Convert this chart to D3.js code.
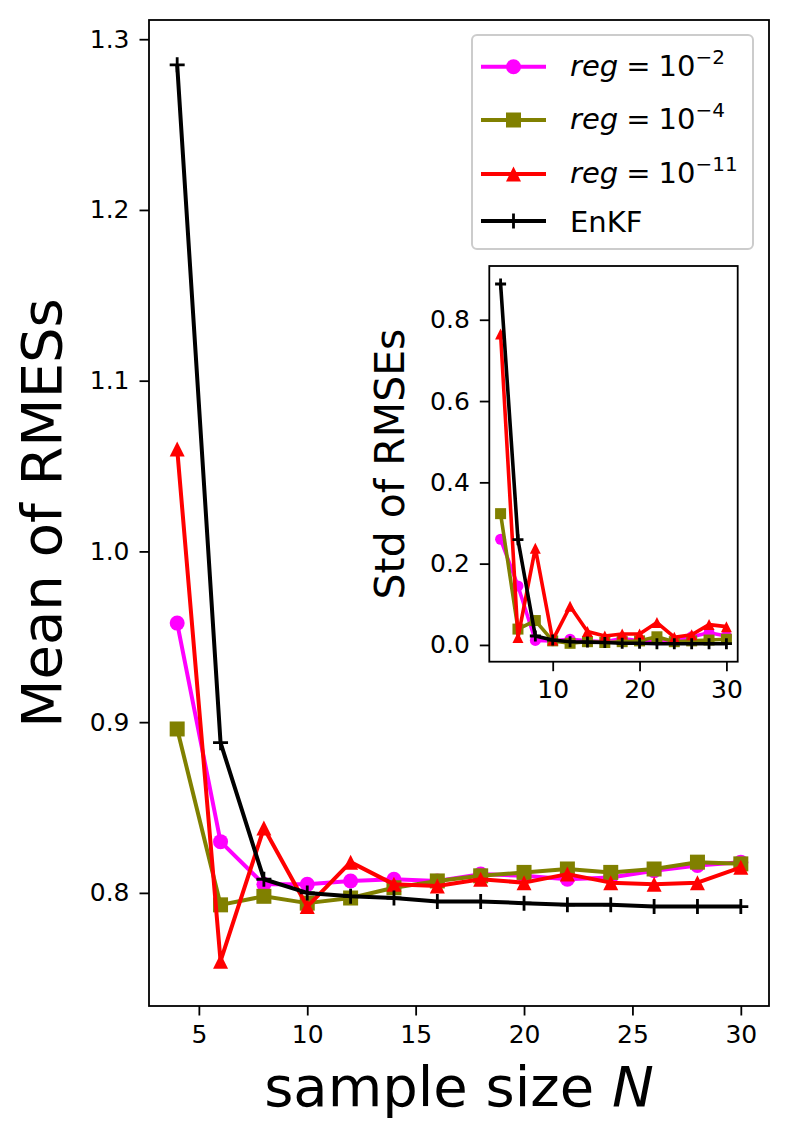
<!DOCTYPE html>
<html>
<head>
<meta charset="utf-8">
<script src="https://cdn.jsdelivr.net/npm/d3@7"></script>
<style>
  body { margin: 0; background: #fff; }
  svg { display: block; font-family: "DejaVu Sans", sans-serif; }
</style>
</head>
<body>
<svg id="chart" width="788" height="1144"></svg>
<script>
// datos
var sampleSizes = [4, 6, 8, 10, 12, 14, 16, 18, 20, 22, 24, 26, 28, 30];

// media de los RMSE
var meanReg2  = [0.958, 0.830, 0.805, 0.805, 0.807, 0.808, 0.807, 0.811, 0.810, 0.808, 0.809, 0.813, 0.816, 0.818];
var meanReg4  = [0.896, 0.793, 0.798, 0.794, 0.797, 0.803, 0.807, 0.810, 0.812, 0.814, 0.812, 0.814, 0.818, 0.817];
var meanReg11 = [1.060, 0.760, 0.838, 0.792, 0.818, 0.805, 0.804, 0.808, 0.806, 0.811, 0.806, 0.805, 0.806, 0.815];
var meanEnKF  = [1.285, 0.888, 0.808, 0.800, 0.798, 0.797, 0.795, 0.795, 0.794, 0.793, 0.793, 0.792, 0.792, 0.792];

// desviación típica de los RMSE (gráfico interior)
var stdReg2  = [0.260, 0.145, 0.011, 0.010, 0.014, 0.010, 0.008, 0.016, 0.010, 0.012, 0.010, 0.020, 0.030, 0.022];
var stdReg4  = [0.323, 0.039, 0.060, 0.010, 0.004, 0.008, 0.006, 0.008, 0.010, 0.020, 0.008, 0.010, 0.012, 0.014];
var stdReg11 = [0.765, 0.018, 0.238, 0.012, 0.095, 0.033, 0.022, 0.027, 0.027, 0.055, 0.019, 0.025, 0.050, 0.045];
var stdEnKF  = [0.888, 0.259, 0.022, 0.012, 0.008, 0.007, 0.006, 0.004, 0.004, 0.003, 0.003, 0.003, 0.003, 0.003];

var seriesExp   = ["\u22122", "\u22124", "\u221211", null];
var seriesNames = ["reg2", "reg4", "reg11", "EnKF"];
var seriesColors = ["#ff00ff", "#808000", "#ff0000", "#000000"];
var seriesMarkers = ["circle", "square", "triangle", "plus"];

var mainXTicks = [5, 10, 15, 20, 25, 30];
var mainYTicks = [0.8, 0.9, 1.0, 1.1, 1.2, 1.3];
var insetXTicks = [10, 20, 30];
var insetYTicks = [0.0, 0.2, 0.4, 0.6, 0.8];

var meanSeries = [meanReg2, meanReg4, meanReg11, meanEnKF];
var stdSeries = [stdReg2, stdReg4, stdReg11, stdEnKF];

var svg = d3.select("#chart");

// dominio con 5% de margen, como matplotlib
function paddedExtent(arrays) {
    var all = d3.merge(arrays);
    var lo = d3.min(all), hi = d3.max(all);
    var m = (hi - lo) * 0.05;
    return [lo - m, hi + m];
}
var xExt = d3.extent(sampleSizes);
var xPad = (xExt[1] - xExt[0]) * 0.05;

// dibuja un marcador en (0,0)
function drawMarker(g, type, size, color) {
    var h = size / 2;
    if (type === "circle") {
        g.append("circle").attr("r", h).attr("fill", color);
    } else if (type === "square") {
        g.append("rect").attr("x", -h).attr("y", -h).attr("width", size).attr("height", size).attr("fill", color);
    } else if (type === "triangle") {
        g.append("path").attr("d", "M0," + (-h) + "L" + h + "," + h + "L" + (-h) + "," + h + "Z").attr("fill", color);
    } else {
        g.append("path").attr("d", "M" + (-h) + ",0H" + h + "M0," + (-h) + "V" + h)
            .attr("stroke", color).attr("stroke-width", 2.8).attr("fill", "none");
    }
}

function drawPanel(box, seriesList, xTicks, yTicks, yFormat, opt) {
    var x = d3.scaleLinear().domain([xExt[0] - xPad, xExt[1] + xPad]).range([box.left, box.right]);
    var y = d3.scaleLinear().domain(paddedExtent(seriesList)).range([box.bottom, box.top]);

    svg.append("rect")
        .attr("x", box.left).attr("y", box.top)
        .attr("width", box.right - box.left).attr("height", box.bottom - box.top)
        .attr("fill", "#fff");

    var clipId = "clip" + opt.id;
    svg.append("clipPath").attr("id", clipId).append("rect")
        .attr("x", box.left).attr("y", box.top)
        .attr("width", box.right - box.left).attr("height", box.bottom - box.top);

    var plot = svg.append("g").attr("clip-path", "url(#" + clipId + ")");
    var line = d3.line().x((d, i) => x(sampleSizes[i])).y(d => y(d));

    seriesList.forEach(function (vals, k) {
        plot.append("path")
            .datum(vals)
            .attr("d", line)
            .attr("fill", "none")
            .attr("stroke", seriesColors[k])
            .attr("stroke-width", opt.lw)
            .attr("stroke-linejoin", "round");
        plot.selectAll(".m" + k)
            .data(vals)
            .enter()
            .append("g")
            .attr("transform", (d, i) => "translate(" + x(sampleSizes[i]) + "," + y(d) + ")")
            .each(function () { drawMarker(d3.select(this), seriesMarkers[k], opt.ms, seriesColors[k]); });
    });

    // ejes
    var xAxis = d3.axisBottom(x).tickValues(xTicks).tickSize(9.5).tickPadding(8).tickFormat(d3.format("d"));
    var yAxis = d3.axisLeft(y).tickValues(yTicks).tickSize(9.5).tickPadding(10).tickFormat(d3.format(yFormat));

    var gx = svg.append("g").attr("transform", "translate(0," + box.bottom + ")").call(xAxis);
    var gy = svg.append("g").attr("transform", "translate(" + box.left + ",0)").call(yAxis);
    [gx, gy].forEach(function (g) {
        g.select(".domain").remove();
        g.selectAll(".tick line").attr("stroke", "#000").attr("stroke-width", 1.8);
        g.selectAll(".tick text").attr("fill", "#000").attr("font-size", opt.tickFont)
            .attr("font-family", "DejaVu Sans");
    });
    gx.selectAll(".tick text").attr("dy", "0.76em");

    svg.append("rect")
        .attr("x", box.left).attr("y", box.top)
        .attr("width", box.right - box.left).attr("height", box.bottom - box.top)
        .attr("fill", "none").attr("stroke", "#000").attr("stroke-width", 1.8);
}

// gráfico principal
drawPanel({ left: 149, right: 769, top: 20, bottom: 1006 }, meanSeries, mainXTicks, mainYTicks, ".1f",
    { id: "main", lw: 4, ms: 15, tickFont: 25 });

svg.append("text")
    .attr("transform", "translate(61,513) rotate(-90)")
    .attr("text-anchor", "middle")
    .attr("font-size", 56)
    .text("Mean of RMESs");

var xl = svg.append("text")
    .attr("x", 459).attr("y", 1106)
    .attr("text-anchor", "middle")
    .attr("font-size", 56);
xl.append("tspan").text("sample size ");
xl.append("tspan").attr("font-style", "italic").text("N");

// leyenda
var legend = svg.append("g");
legend.append("rect")
    .attr("x", 472).attr("y", 35).attr("width", 281).attr("height", 214)
    .attr("rx", 5).attr("fill", "#fff").attr("fill-opacity", 0.8)
    .attr("stroke", "#cccccc").attr("stroke-width", 2);

var rowY = [66.7, 120, 174, 221];
seriesNames.forEach(function (name, k) {
    var row = legend.append("g").attr("transform", "translate(0," + rowY[k] + ")");
    row.append("line").attr("x1", 481).attr("x2", 546).attr("y1", 0).attr("y2", 0)
        .attr("stroke", seriesColors[k]).attr("stroke-width", 4);
    drawMarker(row.append("g").attr("transform", "translate(513.5,0)"), seriesMarkers[k], 15, seriesColors[k]);

    var t = row.append("text").attr("x", 570).attr("y", k === 3 ? 11 : 9).attr("font-size", 29);
    if (seriesExp[k] === null) {
        t.text("EnKF");
    } else {
        t.append("tspan").attr("font-style", "italic").text("reg");
        t.append("tspan").attr("dx", 8).text("=");
        t.append("tspan").attr("dx", 8).text("10");
        t.append("tspan").attr("font-size", 20).attr("dy", -12).text(seriesExp[k]);
    }
});

// gráfico interior
drawPanel({ left: 489.3, right: 737.7, top: 266, bottom: 661.7 }, stdSeries, insetXTicks, insetYTicks, ".1f",
    { id: "inset", lw: 3.6, ms: 11, tickFont: 25 });

svg.append("text")
    .attr("transform", "translate(404,464) rotate(-90)")
    .attr("text-anchor", "middle")
    .attr("font-size", 41)
    .text("Std of RMSEs");
</script>
</body>
</html>
